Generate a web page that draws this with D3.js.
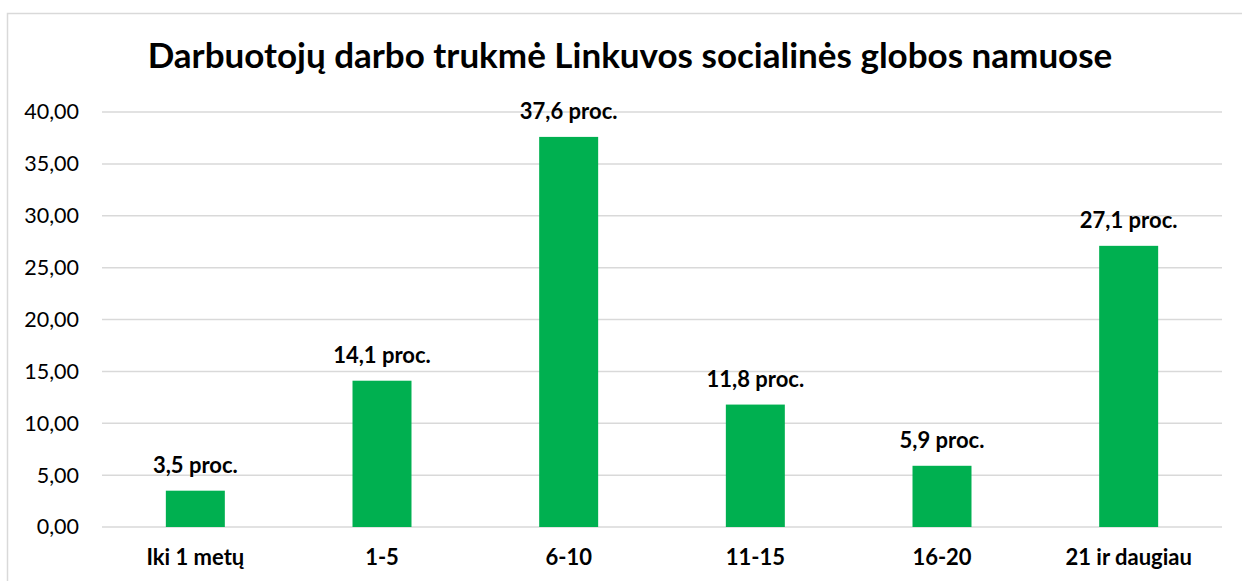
<!DOCTYPE html>
<html>
<head>
<meta charset="utf-8">
<script src="https://cdn.jsdelivr.net/npm/d3@7"></script>
<style>
  body { margin: 0; background: #fff; }
  svg { display: block; font-family: Lato, "Open Sans", sans-serif; }
</style>
</head>
<body>
<div id="chart"></div>
<script>
'use strict';

var chartTitle = "Darbuotojų darbo trukmė Linkuvos socialinės globos namuose";
var categories = ["Iki 1 metų", "1-5", "6-10", "11-15", "16-20", "21 ir daugiau"];
var values = [3.5, 14.1, 37.6, 11.8, 5.9, 27.1];
var yTicks = [0, 5, 10, 15, 20, 25, 30, 35, 40];

var width = 1242, height = 581;
var margin = {top: 112, right: 20, bottom: 54, left: 102};

var svg = d3.select("#chart").append("svg")
    .attr("width", width)
    .attr("height", height);

// chart area border
svg.append("rect")
    .attr("x", 7.5).attr("y", 13.5)
    .attr("width", width + 10).attr("height", height + 10)
    .attr("fill", "none")
    .attr("stroke", "#d9d9d9")
    .attr("stroke-width", 1.5);

var x = d3.scaleBand()
    .domain(categories)
    .range([margin.left, width - margin.right])
    .paddingInner(0.684)
    .paddingOuter(0.342);

var y = d3.scaleLinear()
    .domain([0, 40])
    .range([height - margin.bottom, margin.top]);

// gridlines
svg.append("g")
    .selectAll("line")
    .data(yTicks)
  .enter().append("line")
    .attr("x1", margin.left)
    .attr("x2", width - margin.right)
    .attr("y1", function(d) { return y(d); })
    .attr("y2", function(d) { return y(d); })
    .attr("stroke", "#d9d9d9")
    .attr("stroke-width", 1.5);

// y axis labels
var yAxis = d3.axisLeft(y)
    .tickValues(yTicks)
    .tickSize(0)
    .tickPadding(23)
    .tickFormat(function(d) { return d3.format(".2f")(d).replace(".", ","); });

svg.append("g")
    .attr("transform", "translate(" + margin.left + ",0)")
    .call(yAxis)
    .call(function(g) { g.select(".domain").remove(); })
    .selectAll("text")
    .attr("font-size", 21.5)
    .attr("font-family", "Lato, 'Open Sans', sans-serif")
    .attr("fill", "#000");

// x axis labels
var xAxis = d3.axisBottom(x).tickSize(0);

svg.append("g")
    .attr("transform", "translate(0," + y(0) + ")")
    .call(xAxis)
    .call(function(g) { g.select(".domain").remove(); })
    .selectAll("text")
    .attr("y", 38)
    .attr("dy", 0)
    .attr("font-size", 22)
    .attr("font-weight", "bold")
    .attr("font-family", "Lato, 'Open Sans', sans-serif")
    .attr("fill", "#000");

// bars
svg.append("g")
    .selectAll("rect")
    .data(values)
  .enter().append("rect")
    .attr("x", function(d, i) { return x(categories[i]); })
    .attr("y", function(d) { return y(d); })
    .attr("width", x.bandwidth())
    .attr("height", function(d) { return y(0) - y(d); })
    .attr("fill", "#00b050");

// value labels
svg.append("g")
    .selectAll("text")
    .data(values)
  .enter().append("text")
    .attr("x", function(d, i) { return x(categories[i]) + x.bandwidth() / 2; })
    .attr("y", function(d) { return y(d) - 18; })
    .attr("text-anchor", "middle")
    .attr("font-size", 22)
    .attr("font-weight", "bold")
    .attr("fill", "#000")
    .text(function(d) { return d3.format(".1f")(d).replace(".", ",") + " proc."; });

// title
svg.append("text")
    .attr("x", 630)
    .attr("y", 68)
    .attr("text-anchor", "middle")
    .attr("font-size", 35)
    .attr("font-weight", "bold")
    .attr("fill", "#000")
    .text(chartTitle);
</script>
</body>
</html>
